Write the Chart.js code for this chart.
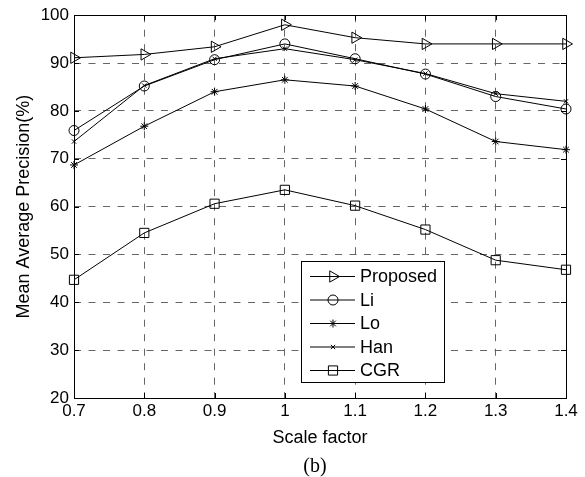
<!DOCTYPE html>
<html>
<head>
<meta charset="utf-8">
<script src="https://cdn.jsdelivr.net/npm/chart.js@4/dist/chart.umd.min.js"></script>
<style>
  html, body { margin: 0; padding: 0; background: #fff; }
  canvas { display: block; }
</style>
</head>
<body>
<canvas id="chart" width="585" height="477"></canvas>
<script>
// data
const scaleFactors = ['0.7', '0.8', '0.9', '1', '1.1', '1.2', '1.3', '1.4'];
const proposed = [91.1, 91.8, 93.4, 98.0, 95.3, 94.0, 94.0, 94.0];
const li       = [75.9, 85.2, 90.7, 94.0, 90.9, 87.7, 83.0, 80.4];
const lo       = [68.7, 76.8, 84.0, 86.5, 85.2, 80.4, 73.6, 71.9];
const han      = [73.6, 85.3, 90.9, 93.0, 90.7, 87.8, 83.6, 82.0];
const cgr      = [44.7, 54.5, 60.6, 63.5, 60.2, 55.2, 48.8, 46.8];
const seriesNames = ['Proposed', 'Li', 'Lo', 'Han', 'CGR'];
const yMin = 20, yMax = 100, yStep = 10;

const FONT = "'Liberation Sans', Arial, Helvetica, sans-serif";
const markers = [
  { pointStyle: 'triangle', rotation: 90, radius: 6.5 },
  { pointStyle: 'circle', rotation: 0, radius: 5 },
  { pointStyle: 'star', rotation: 0, radius: 4 },
  { pointStyle: 'crossRot', rotation: 0, radius: 3 },
  { pointStyle: 'rect', rotation: 0, radius: 6.5 }
];

function makeSet(label, data, m) {
  return {
    label, data,
    borderColor: '#000', borderWidth: 1, tension: 0,
    pointStyle: m.pointStyle, pointRotation: m.rotation, pointRadius: m.radius,
    pointBorderColor: '#000', pointBackgroundColor: 'rgba(0,0,0,0)', pointBorderWidth: 1,
    clip: false
  };
}

// black box + inward ticks, like a matlab axes
const boxPlugin = {
  id: 'box',
  afterDatasetsDraw(chart) {
    const { ctx, chartArea: a, scales } = chart;
    ctx.save();
    ctx.strokeStyle = '#000';
    ctx.lineWidth = 1;
    ctx.beginPath();
    scales.x.ticks.forEach((t, i) => {
      const x = Math.round(scales.x.getPixelForTick(i)) + 0.5;
      ctx.moveTo(x, a.bottom); ctx.lineTo(x, a.bottom - 5);
      ctx.moveTo(x, a.top); ctx.lineTo(x, a.top + 5);
    });
    scales.y.ticks.forEach(t => {
      const y = Math.round(scales.y.getPixelForValue(t.value)) + 0.5;
      ctx.moveTo(a.left, y); ctx.lineTo(a.left + 5, y);
      ctx.moveTo(a.right, y); ctx.lineTo(a.right - 5, y);
    });
    ctx.stroke();
    ctx.strokeRect(Math.round(a.left) + 0.5, Math.round(a.top) + 0.5,
      Math.round(a.right - a.left), Math.round(a.bottom - a.top));
    ctx.restore();
  }
};

// legend box inside the plot, lower right
const legendPlugin = {
  id: 'innerLegend',
  afterDraw(chart) {
    const { ctx } = chart;
    const bx = 301.5, by = 261.5, bw = 143, bh = 121, rowH = 23.5;
    ctx.save();
    ctx.fillStyle = '#fff';
    ctx.fillRect(bx, by, bw, bh);
    ctx.strokeStyle = '#000';
    ctx.lineWidth = 1;
    ctx.strokeRect(bx, by, bw, bh);
    ctx.font = '18px ' + FONT;
    ctx.textBaseline = 'middle';
    ctx.textAlign = 'left';
    seriesNames.forEach((name, i) => {
      const y = by + 15 + i * rowH;
      ctx.beginPath();
      ctx.moveTo(310, y); ctx.lineTo(355, y);
      ctx.stroke();
      ctx.fillStyle = 'rgba(0,0,0,0)';
      Chart.helpers.drawPoint(ctx, {
        pointStyle: markers[i].pointStyle, rotation: markers[i].rotation,
        radius: markers[i].radius, borderWidth: 1
      }, 333, y);
      ctx.fillStyle = '#000';
      ctx.fillText(name, 360, y + 1);
    });
    // subfigure caption
    ctx.font = "20px 'Liberation Serif', 'Times New Roman', serif";
    ctx.textAlign = 'center';
    ctx.fillText('(b)', 315, 467);
    ctx.restore();
  }
};

const gridOpts = {
  color: '#666', lineWidth: 1, drawTicks: false
};

new Chart(document.getElementById('chart'), {
  type: 'line',
  data: {
    labels: scaleFactors,
    datasets: seriesNames.map((n, i) => makeSet(n, [proposed, li, lo, han, cgr][i], markers[i]))
  },
  options: {
    responsive: false,
    animation: false,
    layout: { padding: { left: 0, right: 19, top: 12, bottom: 0 } },
    plugins: { legend: { display: false }, tooltip: { enabled: false } },
    scales: {
      x: {
        offset: false,
        grid: { ...gridOpts, offset: false },
        border: { display: false, dash: [7, 7.5] },
        ticks: { color: '#000', font: { family: FONT, size: 17 }, padding: 3, maxRotation: 0, autoSkip: false },
        title: { display: true, text: 'Scale factor', color: '#000', font: { family: FONT, size: 18 }, padding: { top: 0, bottom: 28.5 } },
        afterFit(s) { s.height = 79; }
      },
      y: {
        min: yMin, max: yMax,
        grid: gridOpts,
        border: { display: false, dash: [7, 7.5] },
        ticks: { stepSize: yStep, color: '#000', font: { family: FONT, size: 17 }, padding: 5 },
        title: { display: true, text: 'Mean Average Precision(%)', color: '#000', font: { family: FONT, size: 18 }, padding: { top: 13.5, bottom: 0 } },
        afterFit(s) { s.width = 74; }
      }
    }
  },
  plugins: [boxPlugin, legendPlugin]
});
</script>
</body>
</html>
